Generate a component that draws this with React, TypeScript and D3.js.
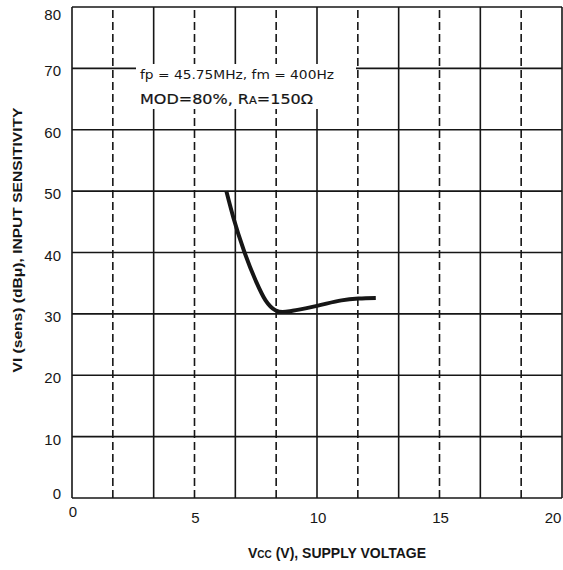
import React from "react";
import * as d3 from "d3";

const voltage = [6.3, 6.6, 7.0, 7.5, 7.9, 8.3, 8.6, 9.0, 10.0, 11.0, 11.7, 12.4];
const sensitivity = [50, 45.5, 40.5, 35.4, 32.2, 30.6, 30.3, 30.5, 31.3, 32.2, 32.5, 32.6];
const xTicks = [0, 5, 10, 15, 20];
const yTicks = [0, 10, 20, 30, 40, 50, 60, 70, 80];
const xGrid = d3.range(0, 13).map((i) => (i * 20) / 12);

const W = 563;
const H = 570;
const ink = "#161616";

export default function App() {
  const x = d3.scaleLinear().domain([0, 20]).range([72, 562]);
  const y = d3.scaleLinear().domain([0, 80]).range([498, 7]);
  const line = d3
    .line<number>()
    .x((_, i) => x(voltage[i]))
    .y((d) => y(d))
    .curve(d3.curveMonotoneX);
  const font = "'Liberation Sans', Arial, sans-serif";
  const noteFont = "'DejaVu Sans', Arial, sans-serif";

  return (
    <svg
      width={W}
      height={H}
      style={{ position: "absolute", left: 0, top: 0, background: "#fff" }}
      fontFamily={font}
    >
      <rect width={W} height={H} fill="#fff" />
      {yTicks.map((t) => (
        <line key={"h" + t} x1={x(0)} x2={x(20)} y1={y(t)} y2={y(t)} stroke={ink} strokeWidth={1.6} />
      ))}
      {xGrid.map((v, i) => (
        <line
          key={"v" + i}
          x1={x(v)}
          x2={x(v)}
          y1={y(0)}
          y2={y(80)}
          stroke={ink}
          strokeWidth={1.6}
          strokeDasharray={i % 2 === 1 ? "8,4" : undefined}
        />
      ))}
      <rect x={136} y={64} width={220} height={45} fill="#fff" />
      <text x={140} y={79} fontSize={12.5} fill={ink} fontFamily={noteFont} textLength={194} lengthAdjust="spacingAndGlyphs">
        fp = 45.75MHz,  fm = 400Hz
      </text>
      <text x={140} y={104} fontSize={14} fill={ink} fontFamily={noteFont} textLength={173} lengthAdjust="spacingAndGlyphs" stroke={ink} strokeWidth={0.2}>
        MOD=80%, R<tspan fontSize={10}>A</tspan>=150Ω
      </text>
      <path d={line(sensitivity) || ""} fill="none" stroke={ink} strokeWidth={4} strokeLinejoin="round" />
      {yTicks.map((t) => (
        <text
          key={"yl" + t}
          x={61}
          y={t === 80 ? y(t) + 13 : t === 0 ? y(t) + 1 : y(t) + 8}
          textAnchor="end"
          fontSize={15}
          fill={ink}
        >
          {t}
        </text>
      ))}
      {xTicks.map((t) => (
        <text
          key={"xl" + t}
          x={t === 20 ? x(t) - 9 : x(t) + 1}
          y={t === 0 ? 517 : 523}
          textAnchor="middle"
          fontSize={15}
          fill={ink}
        >
          {t}
        </text>
      ))}
      <text x={337} y={558} textAnchor="middle" fontSize={14} fontWeight="bold" fill={ink}>
        V<tspan fontSize={10}>CC</tspan> (V), SUPPLY VOLTAGE
      </text>
      <text
        transform={`translate(22,240) rotate(-90)`}
        textAnchor="middle"
        fontSize={13}
        fontWeight="bold"
        fill={ink}
        textLength={265}
        lengthAdjust="spacingAndGlyphs"
      >
        VI (sens) (dBμ), INPUT SENSITIVITY
      </text>
    </svg>
  );
}
